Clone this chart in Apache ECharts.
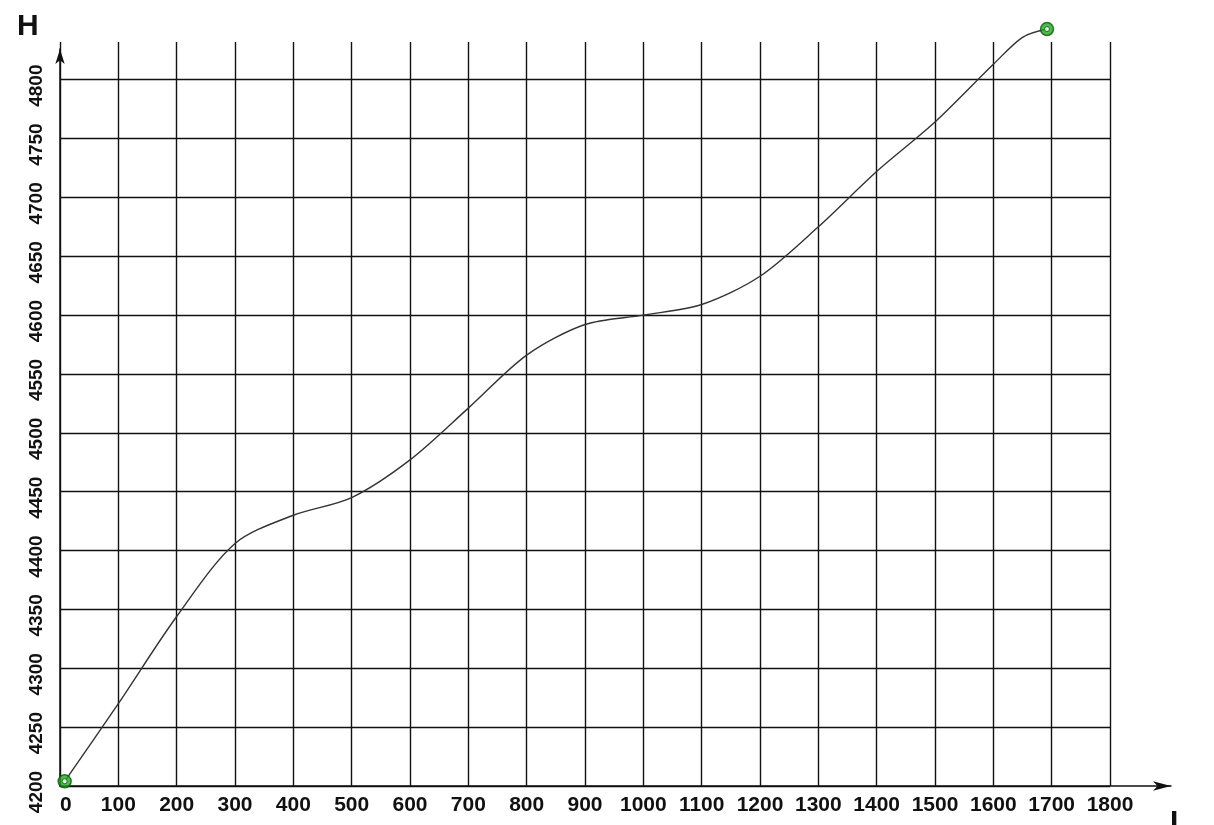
<!DOCTYPE html>
<html>
<head>
<meta charset="utf-8">
<script src="https://cdn.jsdelivr.net/npm/echarts@6/dist/echarts.min.js"></script>
<style>
html,body{margin:0;padding:0;background:#fff;}
#chart{width:1214px;height:825px;}
</style>
</head>
<body>
<div id="chart"></div>
<script>
// Distance L (x) and height H (y)
const distL = [8, 100, 200, 300, 400, 500, 600, 700, 800, 900, 1000, 1100, 1200, 1300, 1400, 1500, 1600, 1650, 1692];
const heightH = [4204, 4270, 4344, 4406, 4430, 4445, 4477, 4521, 4566, 4592, 4600, 4609, 4633, 4675, 4722, 4764, 4813, 4836, 4843];
const xTickMin = 0, xTickMax = 1800, xTickStep = 100;
const yTickMin = 4200, yTickStep = 50, yAxisTop = 4832;
const xName = 'L', yName = 'H';

const lineData = distL.map((v, i) => [v, heightH[i]]);
const endPoints = [lineData[0], lineData[lineData.length - 1]];

const font = "'Liberation Sans', Arial, sans-serif";
const chart = echarts.init(document.getElementById('chart'), null, {renderer: 'canvas'});
chart.setOption({
  animation: false,
  backgroundColor: '#fff',
  grid: [
    {left: 60, right: 104, top: 42, bottom: 39, containLabel: false},
    {left: 60, right: 43, top: 49, bottom: 39, containLabel: false}
  ],
  xAxis: [
    {
      type: 'value', gridIndex: 0, min: xTickMin, max: xTickMax, interval: xTickStep,
      axisLine: {show: false}, axisTick: {show: false},
      axisLabel: {color: '#111', fontFamily: font, fontWeight: 'bold', fontSize: 21, margin: 9,
        alignMinLabel: 'left', formatter: v => String(v)},
      splitLine: {show: true, lineStyle: {color: '#111', width: 1.4}}
    },
    {
      type: 'value', gridIndex: 1, min: 0, max: 1,
      axisLine: {show: true, symbol: ['none', 'arrow'], symbolSize: [7, 18], lineStyle: {color: '#111', width: 1.5}},
      axisTick: {show: false}, axisLabel: {show: false}, splitLine: {show: false}
    }
  ],
  yAxis: [
    {
      type: 'value', gridIndex: 0, min: yTickMin, max: yAxisTop, interval: yTickStep,
      axisLine: {show: false}, axisTick: {show: false},
      axisLabel: {color: '#111', fontFamily: font, fontWeight: 'bold', fontSize: 19, rotate: 90, margin: 14,
        showMaxLabel: false, padding: [0, 12, 0, 0],
        formatter: v => (v % 50 === 0 ? String(v) : '')},
      splitLine: {show: true, showMaxLine: false, lineStyle: {color: '#111', width: 1.4}}
    },
    {
      type: 'value', gridIndex: 1, min: 0, max: 1,
      axisLine: {show: true, symbol: ['none', 'arrow'], symbolSize: [7, 15], lineStyle: {color: '#111', width: 1.5}},
      axisTick: {show: false}, axisLabel: {show: false}, splitLine: {show: false}
    }
  ],
  graphic: [
    {type: 'text', left: 17, top: 12, style: {text: yName, fontFamily: font, fontWeight: 'bold', fontSize: 30, fill: '#111'}},
    {type: 'text', left: 1170, top: 808, style: {text: xName, fontFamily: font, fontWeight: 'bold', fontSize: 30, fill: '#111'}}
  ],
  series: [
    {
      type: 'line', xAxisIndex: 0, yAxisIndex: 0, data: lineData, smooth: 0.3,
      showSymbol: false, clip: false,
      lineStyle: {color: '#333', width: 1.4}, z: 3
    },
    {
      type: 'scatter', xAxisIndex: 0, yAxisIndex: 0, data: endPoints, clip: false,
      symbol: 'circle', symbolSize: 13,
      itemStyle: {color: '#22a822', borderColor: '#0e5a0e', borderWidth: 1.5}, z: 4
    },
    {
      type: 'scatter', xAxisIndex: 0, yAxisIndex: 0, data: endPoints, clip: false,
      symbol: 'circle', symbolSize: 5,
      itemStyle: {color: '#ffffff', borderColor: '#0e5a0e', borderWidth: 1}, z: 5
    }
  ]
});
</script>
</body>
</html>
